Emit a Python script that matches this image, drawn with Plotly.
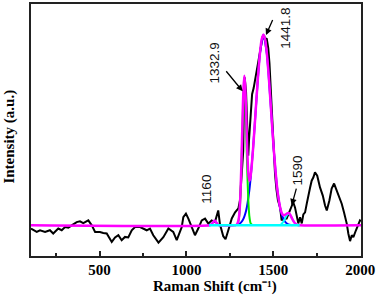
import plotly.graph_objects as go

# ---- measured spectrum (black) ----
raman_x = [105, 118, 138, 157, 186, 214, 233, 262, 282, 301, 320, 339, 368, 387, 406, 435, 455, 474,
           502, 521, 541, 570, 589, 608, 627, 646, 665, 685, 704, 733, 771, 790, 809, 839, 867, 896,
           924, 944, 973, 982, 997, 1011, 1030, 1049, 1068, 1088, 1107, 1126, 1145, 1164, 1183, 1193,
           1212, 1225, 1241, 1261, 1280, 1299, 1308, 1318, 1327, 1330, 1335, 1343, 1349, 1352, 1356,
           1360, 1368, 1378, 1387, 1397, 1406, 1416, 1424, 1433, 1439, 1447, 1452, 1462, 1471, 1478,
           1485, 1491, 1497, 1503, 1510, 1518, 1527, 1539, 1548, 1558, 1577, 1596, 1608, 1615, 1625,
           1635, 1644, 1654, 1664, 1673, 1683, 1693, 1702, 1712, 1721, 1731, 1740, 1753, 1769, 1785,
           1798, 1808, 1823, 1836, 1850, 1865, 1880, 1894, 1907, 1923, 1932, 1942, 1952, 1961, 1976,
           1990, 1999, 2005]
raman_y = [-0.017, -0.026, -0.035, -0.026, -0.035, -0.026, -0.043, -0.017, -0.026, -0.009, -0.012, 0.0,
           0.017, 0.021, 0.012, 0.026, 0.0, -0.035, -0.035, -0.040, -0.043, -0.087, -0.064, -0.052,
           -0.078, -0.061, -0.064, -0.026, -0.009, -0.009, -0.026, -0.017, -0.052, -0.091, -0.0625,
           -0.017, -0.035, -0.078, -0.009, 0.043, 0.061, 0.035, -0.009, -0.052, -0.017, 0.026, 0.035,
           0.009, 0.026, 0.017, 0.078, 0.005, -0.057, -0.073, -0.026, 0.036, 0.068, 0.089, 0.13,
           0.245, 0.39, 0.60, 0.776, 0.703, 0.547, 0.39, 0.365, 0.443, 0.573, 0.6875, 0.72, 0.772,
           0.824, 0.859, 0.896, 0.948, 0.99, 0.998, 0.972, 0.981, 0.929, 0.85, 0.72, 0.58, 0.47,
           0.36, 0.27, 0.19, 0.13, 0.095, 0.026, 0.035, 0.036, 0.078, 0.109, 0.121, 0.094, 0.042,
           0.010, 0.042, 0.010, 0.057, 0.068, 0.115, 0.147, 0.198, 0.234, 0.252, 0.278, 0.26, 0.199,
           0.156, 0.104, 0.078, 0.13, 0.193, 0.219, 0.182, 0.139, 0.113, 0.069, 0.009, -0.043,
           -0.083, -0.052, -0.0625, -0.026, 0.009, 0.026, 0.021]

# ---- cumulative fit (magenta) ----
fit_x = [105, 1135, 1145, 1152, 1162, 1172, 1179, 1190, 1275, 1290, 1300, 1305, 1310, 1316, 1322, 1328,
         1333, 1338, 1344, 1350, 1356, 1362, 1368, 1375, 1383, 1393, 1403, 1413, 1423, 1433, 1443,
         1453, 1463, 1473, 1483, 1493, 1503, 1513, 1523, 1533, 1543, 1553, 1563, 1573, 1583, 1590,
         1598, 1608, 1618, 1628, 1638, 1650, 2005]
fit_y = [0, 0, 0.006, 0.015, 0.025, 0.015, 0.006, 0, 0, 0.004, 0.027, 0.067, 0.146, 0.31, 0.523, 0.713,
         0.784, 0.738, 0.58, 0.40, 0.278, 0.234, 0.249, 0.305, 0.395, 0.524, 0.662, 0.793, 0.902,
         0.975, 1.0, 0.975, 0.902, 0.793, 0.662, 0.524, 0.395, 0.282, 0.19, 0.125, 0.08, 0.057,
         0.052, 0.058, 0.064, 0.064, 0.055, 0.036, 0.0195, 0.008, 0.0026, 0, 0]

# ---- component at 1332.9 (green) ----
g_x = [1290, 1296, 1304, 1310, 1316, 1322, 1328, 1333, 1338, 1344, 1350, 1356, 1362, 1370, 1380]
g_y = [0, 0.01, 0.05, 0.136, 0.29, 0.50, 0.68, 0.74, 0.68, 0.50, 0.29, 0.136, 0.05, 0.01, 0]

# ---- component at 1441.8 (blue) ----
b_x = [1280, 1303, 1323, 1343, 1363, 1383, 1403, 1423, 1443, 1463, 1483, 1503, 1523, 1543, 1563, 1583, 1610]
b_y = [0, 0.006, 0.025, 0.075, 0.19, 0.395, 0.66, 0.90, 1.0, 0.90, 0.66, 0.395, 0.19, 0.075, 0.025, 0.006, 0]

# ---- small components (cyan) ----
c1_x = [1130, 1145, 1152, 1162, 1172, 1179, 1190]
c1_y = [0, 0.006, 0.015, 0.025, 0.015, 0.006, 0]
c2_x = [1540, 1548, 1558, 1568, 1578, 1588, 1598, 1608, 1618, 1628, 1640, 1652]
c2_y = [0, 0.008, 0.019, 0.036, 0.053, 0.06, 0.053, 0.036, 0.019, 0.008, 0.001, 0]
base_x = [1130, 1652]
base_y = [0, 0]

peak_labels = ["1160", "1332.9", "1441.8", "1590"]
x_ticks = [500, 1000, 1500, 2000]
x_minor = [250, 750, 1250, 1750]

fig = go.Figure()
fig.add_trace(go.Scatter(x=raman_x, y=raman_y, mode="lines", line=dict(color="black", width=2)))
fig.add_trace(go.Scatter(x=b_x, y=b_y, mode="lines", line=dict(color="#0000FF", width=2, shape="spline", smoothing=0.6)))
fig.add_trace(go.Scatter(x=g_x, y=g_y, mode="lines", line=dict(color="#00EE00", width=2, shape="spline", smoothing=0.6)))
fig.add_trace(go.Scatter(x=c1_x, y=c1_y, mode="lines", line=dict(color="#00FFFF", width=2, shape="spline", smoothing=0.6)))
fig.add_trace(go.Scatter(x=c2_x, y=c2_y, mode="lines", line=dict(color="#00FFFF", width=2, shape="spline", smoothing=0.6)))
fig.add_trace(go.Scatter(x=fit_x, y=fit_y, mode="lines", line=dict(color="#FF00FF", width=2.5, shape="spline", smoothing=0.5)))
fig.add_trace(go.Scatter(x=base_x, y=base_y, mode="lines", line=dict(color="#00FFFF", width=2.5)))

lab_font = dict(family="Liberation Sans", size=13.5, color="#111")
ann = []
ann.append(dict(x=1113, y=0.1875, xref="x", yref="y", text=peak_labels[0], textangle=-90, showarrow=False, font=lab_font))
ann.append(dict(x=1164, y=0.854, xref="x", yref="y", text=peak_labels[1], textangle=-90, showarrow=False, font=lab_font))
ann.append(dict(x=1573, y=1.036, xref="x", yref="y", text=peak_labels[2], textangle=-90, showarrow=False, font=lab_font))
ann.append(dict(x=1640, y=0.286, xref="x", yref="y", text=peak_labels[3], textangle=-90, showarrow=False, font=lab_font))
for (tx, ty, axx, ayy) in [(1324, 0.703, 1222, 0.816), (1458, 0.998, 1500, 1.085), (1606, 0.104, 1635, 0.20)]:
    ann.append(dict(x=tx, y=ty, ax=axx, ay=ayy, xref="x", yref="y", axref="x", ayref="y", text="",
                    showarrow=True, arrowhead=2, arrowsize=1, arrowwidth=1.3, arrowcolor="black"))
ann.append(dict(x=0.558, y=-0.162, xref="paper", yref="paper", xanchor="center", yanchor="bottom",
                text="Raman Shift (cm⁻¹)", showarrow=False,
                font=dict(family="Liberation Serif", size=15, color="black", weight="bold")))
ann.append(dict(x=-0.065, y=0.472, xref="paper", yref="paper", xanchor="center", yanchor="middle",
                text="Intensity (a.u.)", textangle=-90, showarrow=False,
                font=dict(family="Liberation Serif", size=15, color="black", weight="bold")))

fig.update_layout(
    width=378, height=297,
    margin=dict(l=31, r=17, t=2, b=41),
    plot_bgcolor="white", paper_bgcolor="white",
    showlegend=False,
    annotations=ann,
    xaxis=dict(range=[105, 2005], tickvals=x_ticks, ticktext=[str(v) for v in x_ticks],
               ticks="inside", ticklen=5, tickwidth=1.5, tickcolor="#222",
               minor=dict(tickvals=x_minor, ticks="inside", ticklen=3, tickwidth=1.5, tickcolor="#222"),
               showline=True, linewidth=2, linecolor="#222", mirror=True,
               showgrid=False, zeroline=False, ticklabelstandoff=-1,
               tickfont=dict(family="Liberation Serif", size=15, color="black", weight="bold")),
    yaxis=dict(range=[-0.161, 1.161], showticklabels=False, ticks="",
               showline=True, linewidth=2, linecolor="#222", mirror=True,
               showgrid=False, zeroline=False),
)

fig.write_html("out.html", config={"displayModeBar": False},
               post_script="document.body.style.margin='0px';document.body.style.overflow='hidden';")
